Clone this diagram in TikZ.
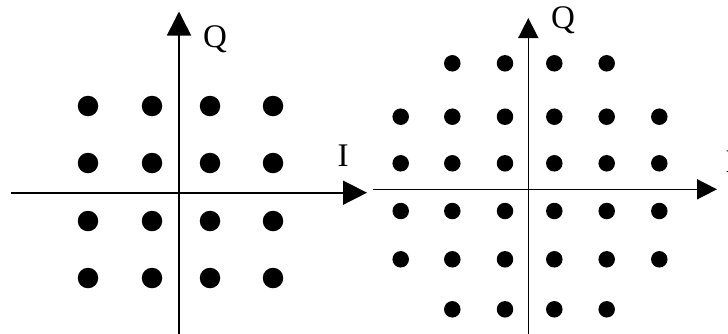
\documentclass[tikz,border=0pt]{standalone}
\usepackage{fontspec}
\setmainfont{Liberation Serif}
\usetikzlibrary{arrows.meta}
\begin{document}
\begin{tikzpicture}[x=1pt,y=-1pt,
  axis/.style={line width=1.6pt},
  arrL/.style={-{Triangle[length=24pt,width=24pt]}},
  arrR/.style={-{Triangle[length=20pt,width=20pt]}},
  dotL/.style={circle,fill=black,draw=none,minimum size=20.5pt,inner sep=0pt},
  dotR/.style={circle,fill=black,draw=none,minimum size=16.5pt,inner sep=0pt},
  lbl/.style={font=\fontsize{33pt}{35pt}\selectfont,inner sep=0pt,anchor=base}]
\useasboundingbox (0,0) rectangle (728,333);
% left diagram
\coordinate (lxs) at (11,192.7);
\coordinate (lxe) at (367,192.7);
\coordinate (lys) at (179,334);
\coordinate (lye) at (179,11.5);
\draw[axis,arrL] (lxs) -- (lxe);
\draw[axis,arrL] (lys) -- (lye);
\node[lbl] (lq) at (215,47) {Q};
\node[lbl] (li) at (343,166) {I};
\foreach \x [count=\i] in {88,152,210,273}
  \foreach \y [count=\j] in {106,163,221,278}
    \node[dotL] (l\i\j) at (\x,\y) {};
% right diagram
\coordinate (rxs) at (373,189.3);
\coordinate (rxe) at (717,189.3);
\coordinate (rys) at (528.3,334);
\coordinate (rye) at (528.3,18);
\draw[axis,arrR] (rxs) -- (rxe);
\draw[axis,arrR] (rys) -- (rye);
\node[lbl] (rq) at (563,28.5) {Q};
\node[lbl] (ri) at (731,172) {I};
\foreach \x [count=\i] in {400.7,452.3,505,554.3,606.7,659.3}
  \foreach \y [count=\j] in {116.7,163.3,211,259.3}
    \node[dotR] (r\i\j) at (\x,\y) {};
\foreach \x [count=\i] in {452.3,505,554.3,606.7}{
  \node[dotR] (rt\i) at (\x,63.3) {};
  \node[dotR] (rb\i) at (\x,309.3) {};
}
\end{tikzpicture}
\end{document}
